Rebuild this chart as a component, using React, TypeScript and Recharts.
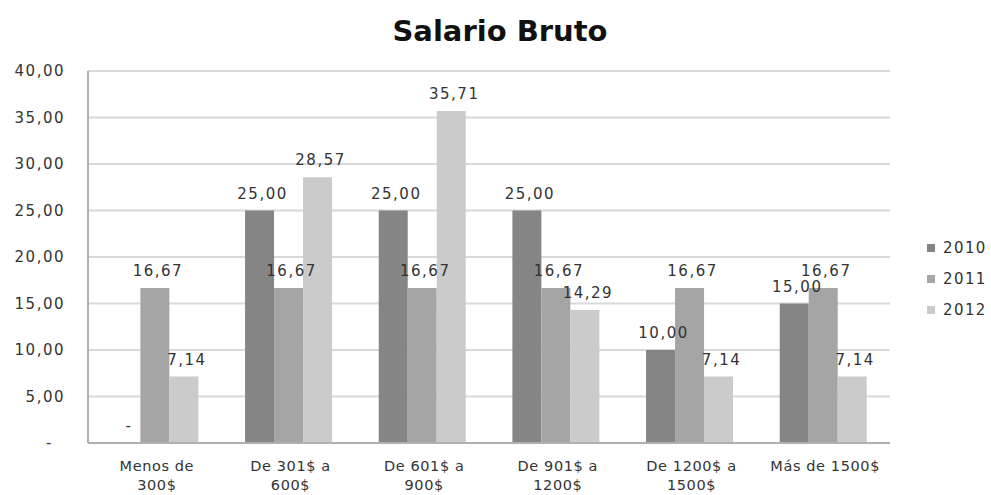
import React from "react";
import { BarChart, Bar, XAxis, YAxis, CartesianGrid, LabelList } from "recharts";

const categories = ["Menos de|300$", "De 301$ a|600$", "De 601$ a|900$", "De 901$ a|1200$", "De 1200$ a|1500$", "Más de 1500$"];
const s2010 = [0, 25.0, 25.0, 25.0, 10.0, 15.0];
const s2011 = [16.67, 16.67, 16.67, 16.67, 16.67, 16.67];
const s2012 = [7.14, 28.57, 35.71, 14.29, 7.14, 7.14];
const yTicks = [0, 5, 10, 15, 20, 25, 30, 35, 40];
const seriesNames = ["2010", "2011", "2012"];
const colors = ["#858585", "#a5a5a5", "#cbcbcb"];

const data = categories.map((c, i) => ({ name: c, y2010: s2010[i], y2011: s2011[i], y2012: s2012[i] }));

const FONT = "'DejaVu Sans', sans-serif";
const fmt = (v: number) => (v === 0 ? "-" : v.toFixed(2).replace(".", ","));

const YTick = (props: any) => {
  const { x, y, payload } = props;
  const v = payload.value;
  return (
    <text x={v === 0 ? x - 12 : x} y={y} dy={5} textAnchor="end" fill="#333" fontSize={15} fontFamily={FONT} letterSpacing={1.5}>
      {fmt(v)}
    </text>
  );
};

const XTick = (props: any) => {
  const { x, y, payload } = props;
  const lines = String(payload.value).split("|");
  return (
    <g>
      {lines.map((l, i) => (
        <text key={i} x={x + 2} y={y + 20 + i * 19} textAnchor="middle" fill="#333" fontSize={14.5} fontFamily={FONT} letterSpacing={0.6}>
          {l}
        </text>
      ))}
    </g>
  );
};

const BarLabel = (props: any) => {
  const { x, y, width, height, value } = props;
  const top = Math.min(Number(y), Number(y) + Number(height || 0));
  return (
    <text x={Number(x) + Number(width) / 2 + 3} y={top - 12} textAnchor="middle" fill="#333" fontSize={15} fontFamily={FONT} letterSpacing={1.5}>
      {fmt(Number(value))}
    </text>
  );
};

const tinyForZero = (v: any) => (Number(v) === 0 ? 0.01 : 0);

export default function App() {
  return (
    <div style={{ position: "absolute", left: 0, top: 0, width: 991, height: 495, background: "#fff" }}>
      <div style={{ position: "absolute", left: 0, top: 14, width: 1000, textAlign: "center", fontFamily: FONT, fontWeight: "bold", fontSize: 29, color: "#111" }}>
        Salario Bruto
      </div>
      <BarChart width={991} height={495} data={data} margin={{ top: 71, right: 101, bottom: 0, left: 0 }} barCategoryGap="17.5%" barGap={0}>
        <CartesianGrid vertical={false} stroke="#d9d9d9" strokeWidth={2} />
        <XAxis dataKey="name" tick={<XTick />} tickLine={false} axisLine={{ stroke: "#b0b0b0", strokeWidth: 2 }} height={52} interval={0} />
        <YAxis domain={[0, 40]} ticks={yTicks} tick={<YTick />} tickLine={false} axisLine={{ stroke: "#b0b0b0", strokeWidth: 2 }} width={88} tickMargin={17} />
        <Bar dataKey="y2010" fill={colors[0]} isAnimationActive={false} minPointSize={tinyForZero as any}>
          <LabelList dataKey="y2010" content={<BarLabel />} />
        </Bar>
        <Bar dataKey="y2011" fill={colors[1]} isAnimationActive={false}>
          <LabelList dataKey="y2011" content={<BarLabel />} />
        </Bar>
        <Bar dataKey="y2012" fill={colors[2]} isAnimationActive={false}>
          <LabelList dataKey="y2012" content={<BarLabel />} />
        </Bar>
      </BarChart>
      <div style={{ position: "absolute", left: 927, top: 232, fontFamily: FONT, fontSize: 15, color: "#333", letterSpacing: 1.4 }}>
        {seriesNames.map((n, i) => (
          <div key={n} style={{ display: "flex", alignItems: "center", height: 31 }}>
            <span style={{ display: "inline-block", width: 8, height: 8, background: colors[i], marginRight: 8 }} />
            {n}
          </div>
        ))}
      </div>
    </div>
  );
}
